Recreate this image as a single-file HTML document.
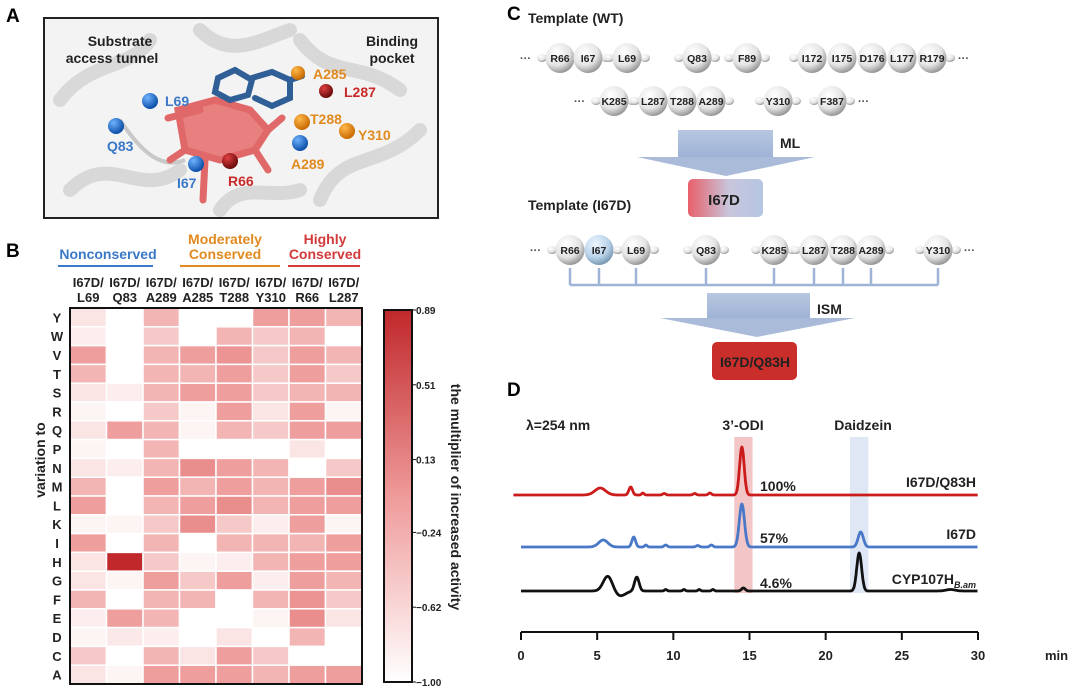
<!DOCTYPE html>
<html><head><meta charset="utf-8">
<style>
html,body{margin:0;padding:0;background:#fff;}
svg{display:block;font-family:"Liberation Sans",Arial,sans-serif;font-weight:bold;}
</style></head>
<body>
<svg id="fig" width="1080" height="690" viewBox="0 0 1080 690">
<defs>
<radialGradient id="bead" cx="0.38" cy="0.3" r="0.75"><stop offset="0" stop-color="#fff"/><stop offset="0.6" stop-color="#e4e4e4"/><stop offset="1" stop-color="#8a8a8a"/></radialGradient>
<radialGradient id="beadB" cx="0.38" cy="0.3" r="0.75"><stop offset="0" stop-color="#eef6ff"/><stop offset="0.6" stop-color="#b9d3ea"/><stop offset="1" stop-color="#6f8fab"/></radialGradient>
<linearGradient id="mlbox" x1="0" x2="1"><stop offset="0" stop-color="#e8606a"/><stop offset="0.55" stop-color="#c8c6dc"/><stop offset="1" stop-color="#b4c6e4"/></linearGradient>
<linearGradient id="arrowG" x1="0" y1="0" x2="0" y2="1"><stop offset="0" stop-color="#b7c7e0"/><stop offset="1" stop-color="#9fb3d6"/></linearGradient>
<linearGradient id="cbar" x1="0" y1="1" x2="0" y2="0"><stop offset="0" stop-color="#ffffff"/><stop offset="0.5" stop-color="#ef9a9a"/><stop offset="1" stop-color="#c0282b"/></linearGradient>
<radialGradient id="ballBlue" cx="0.35" cy="0.3" r="0.7"><stop offset="0" stop-color="#6fb3ff"/><stop offset="1" stop-color="#0b4ea8"/></radialGradient>
<radialGradient id="ballRed" cx="0.35" cy="0.3" r="0.7"><stop offset="0" stop-color="#e04040"/><stop offset="1" stop-color="#6a0a0a"/></radialGradient>
<radialGradient id="ballOr" cx="0.35" cy="0.3" r="0.7"><stop offset="0" stop-color="#ffb84a"/><stop offset="1" stop-color="#c96a00"/></radialGradient>
</defs>

<text x="6" y="22" font-size="19">A</text>
<text x="6" y="257" font-size="19">B</text>
<text x="507" y="20" font-size="19">C</text>
<text x="507" y="396" font-size="19">D</text>

<g>
<rect x="44" y="18" width="394" height="200" fill="#f3f3f3" stroke="#222" stroke-width="2"/>
<g fill="none" stroke="#d6d6d6" stroke-width="14" stroke-linecap="round" opacity="0.9">
<path d="M60 100 C90 60 130 70 150 40"/><path d="M70 190 C110 150 140 200 180 170"/>
<path d="M300 40 C330 80 360 60 400 90"/><path d="M320 200 C340 150 380 170 420 130"/>
<path d="M200 30 C230 60 260 40 290 30"/><path d="M220 210 C240 180 270 200 300 190"/>
</g>
<path d="M120 120 C140 150 160 170 185 160" fill="none" stroke="#c8c8c8" stroke-width="4"/>
<text x="120" y="46" font-size="14" text-anchor="middle" fill="#222">Substrate</text>
<text x="112" y="63" font-size="14" text-anchor="middle" fill="#222">access tunnel</text>
<text x="392" y="46" font-size="14" text-anchor="middle" fill="#222">Binding</text>
<text x="392" y="63" font-size="14" text-anchor="middle" fill="#222">pocket</text>
<g stroke="#e06868" stroke-width="7" fill="none" stroke-linecap="round">
<path d="M178 110 L215 100 L250 110 L268 130 L255 150 L220 160 L185 150 Z" fill="#e88080"/>
<path d="M168 118 L200 110"/><path d="M185 150 L170 160"/><path d="M205 160 L203 200"/><path d="M255 150 L268 170"/><path d="M268 130 L282 118"/>
</g>
<g stroke="#2f5f96" stroke-width="6" fill="none" stroke-linecap="round">
<path d="M218 78 L235 70 L252 80 L248 95 L230 100 L215 92 Z"/><path d="M252 78 L272 72 L290 80 L290 98 L272 106 L255 98"/><path d="M290 80 L302 76"/>
</g>
<circle cx="150" cy="101" r="8" fill="url(#ballBlue)"/><text x="165" y="106" font-size="14" fill="#3a78c8">L69</text>
<circle cx="116" cy="126" r="8" fill="url(#ballBlue)"/><text x="107" y="151" font-size="14" fill="#3a78c8">Q83</text>
<circle cx="196" cy="164" r="8" fill="url(#ballBlue)"/><text x="177" y="188" font-size="14" fill="#3a78c8">I67</text>
<circle cx="230" cy="161" r="8" fill="url(#ballRed)"/><text x="228" y="186" font-size="14" fill="#c92a2a">R66</text>
<circle cx="298" cy="73" r="7" fill="url(#ballOr)"/><text x="313" y="79" font-size="14" fill="#e08a20">A285</text>
<circle cx="326" cy="91" r="7" fill="url(#ballRed)"/><text x="344" y="97" font-size="14" fill="#c92a2a">L287</text>
<circle cx="302" cy="122" r="8" fill="url(#ballOr)"/><text x="310" y="124" font-size="14" fill="#e08a20">T288</text>
<circle cx="347" cy="131" r="8" fill="url(#ballOr)"/><text x="358" y="140" font-size="14" fill="#e08a20">Y310</text>
<circle cx="300" cy="143" r="8" fill="url(#ballBlue)"/><text x="291" y="169" font-size="14" fill="#e08a20">A289</text>
</g>

<g id="heat">
<text x="108" y="259" font-size="14" text-anchor="middle" fill="#3a78c8">Nonconserved</text>
<line x1="58" y1="266" x2="153" y2="266" stroke="#3a78c8" stroke-width="2"/>
<text x="225" y="244" font-size="14" text-anchor="middle" fill="#e08a20">Moderately</text>
<text x="225" y="259" font-size="14" text-anchor="middle" fill="#e08a20">Conserved</text>
<line x1="180" y1="266" x2="280" y2="266" stroke="#e08a20" stroke-width="2"/>
<text x="325" y="244" font-size="14" text-anchor="middle" fill="#d33a3a">Highly</text>
<text x="325" y="259" font-size="14" text-anchor="middle" fill="#d33a3a">Conserved</text>
<line x1="288" y1="266" x2="360" y2="266" stroke="#d33a3a" stroke-width="2"/>
<g id="cells"></g><g id="collabels"></g><g id="rowlabels"></g>
<rect x="70" y="308" width="292" height="376" fill="none" stroke="#111" stroke-width="2"/>
<text transform="translate(45,460) rotate(-90)" font-size="14" text-anchor="middle" fill="#222">variation to</text>
<rect x="384" y="310" width="28" height="372" fill="url(#cbar)" stroke="#111" stroke-width="2"/>
<g id="cbticks"></g>
<text transform="translate(451,497) rotate(90)" font-size="14" text-anchor="middle" fill="#222">the multiplier of increased activity</text>
</g>

<g>
<text x="528" y="23" font-size="14" fill="#222">Template (WT)</text>
<g id="beads"></g>
<rect x="678" y="130" width="95" height="27" fill="url(#arrowG)"/>
<polygon points="637,157 815,157 726,176" fill="#a9bbd9"/>
<text x="780" y="148" font-size="14" fill="#222">ML</text>
<rect x="688" y="179" width="75" height="38" rx="5" fill="url(#mlbox)"/>
<text x="724" y="205" font-size="15" text-anchor="middle" fill="#222">I67D</text>
<text x="528" y="210" font-size="14" fill="#222">Template (I67D)</text>
<g id="bracket" stroke="#9fb3d6" stroke-width="2.5" fill="none"></g>
<rect x="707" y="293" width="103" height="25" fill="url(#arrowG)"/>
<polygon points="660,318 855,318 757,337" fill="#a9bbd9"/>
<text x="817" y="314" font-size="14" fill="#222">ISM</text>
<rect x="712" y="342" width="85" height="38" rx="5" fill="#c92e2a"/>
<text x="755" y="367" font-size="14" text-anchor="middle" fill="#222">I67D/Q83H</text>
</g>

<g id="chrom"></g>
</svg>
<script>
// ---------- Heatmap data ----------
const heatCols = ["L69","Q83","A289","A285","T288","Y310","R66","L287"];
const heatRows = ["Y","W","V","T","S","R","Q","P","N","M","L","K","I","H","G","F","E","D","C","A"];
const cbTicks = [0.89,0.51,0.13,-0.24,-0.62,-1.00];
const rowY = [-0.75,-1,-0.3,-1,-1,-0.1,-0.1,-0.3];
const rowW = [-0.85,-1,-0.5,-1,-0.3,-0.5,-0.3,-1];
const rowV = [-0.1,-1,-0.3,-0.1,0.0,-0.5,-0.1,-0.3];
const rowT = [-0.3,-1,-0.3,-0.3,-0.1,-0.5,-0.1,-0.5];
const rowS = [-0.75,-0.85,-0.3,-0.1,-0.1,-0.5,-0.3,-0.3];
const rowR = [-0.9,-1,-0.5,-0.9,-0.1,-0.75,-0.1,-0.9];
const rowQ = [-0.75,-0.1,-0.3,-0.9,-0.3,-0.5,-0.1,-0.1];
const rowP = [-0.9,-1,-0.3,-1,-1,-1,-0.75,-1];
const rowN = [-0.75,-0.85,-0.3,0.05,-0.1,-0.3,-1,-0.5];
const rowM = [-0.3,-1,-0.1,-0.3,-0.1,-0.3,-0.1,0.05];
const rowL = [-0.1,-1,-0.3,-0.1,0.05,-0.3,-0.1,-0.1];
const rowK = [-0.9,-0.9,-0.5,0.05,-0.5,-0.85,-0.1,-0.9];
const rowI = [-0.1,-1,-0.3,-1,-0.3,-0.3,-0.3,-0.1];
const rowH = [-0.75,0.89,-0.5,-0.9,-0.85,-0.3,-0.1,-0.1];
const rowG = [-0.75,-0.9,-0.1,-0.5,-0.1,-0.85,-0.1,-0.3];
const rowF = [-0.3,-1,-0.3,-0.3,-1,-0.3,0.0,-0.5];
const rowE = [-0.85,-0.1,-0.3,-1,-1,-0.9,0.05,-0.75];
const rowD = [-0.9,-0.8,-0.85,-1,-0.75,-1,-0.3,-1];
const rowC = [-0.5,-1,-0.3,-0.75,-0.1,-0.5,-1,-1];
const rowA = [-0.75,-0.9,-0.1,-0.1,-0.1,-0.3,-0.1,-0.1];
const heatValues = [rowY,rowW,rowV,rowT,rowS,rowR,rowQ,rowP,rowN,rowM,rowL,rowK,rowI,rowH,rowG,rowF,rowE,rowD,rowC,rowA];

// ---------- Chromatogram data ----------
const axisTicks = [0,5,10,15,20,25,30];
// peaks: [time(min), height(signal), width(min)]
const peaksRed = [[5.2,7,0.35],[7.2,8,0.12],[8.0,2,0.08],[9.4,1.5,0.1],[11.4,1.5,0.1],[12.4,2,0.1],[14.5,48,0.15]];
const peaksBlue = [[5.4,7,0.3],[7.4,10,0.12],[8.2,2,0.08],[9.5,2,0.1],[11.6,1.5,0.1],[12.5,2,0.1],[14.5,43,0.17],[22.3,15,0.17]];
const peaksBlack = [[5.7,15,0.3],[6.5,-5,0.35],[7.6,14,0.15],[9.5,1.5,0.08],[10.7,1.5,0.08],[11.7,1.5,0.08],[12.6,1.5,0.08],[14.6,3,0.12],[22.2,38,0.16],[28.2,1.5,0.3]];
const seriesNames = ["I67D/Q83H","I67D","CYP107H"];
const seriesPct = ["100%","57%","4.6%"];

const NS = "http://www.w3.org/2000/svg";
function mk(tag, attrs, parent){const e=document.createElementNS(NS,tag);for(const k in attrs)e.setAttribute(k,attrs[k]);if(parent)parent.appendChild(e);return e;}

const hx0=70, hw=292, hy0=308, hh=376;
const cw = hw/heatCols.length, ch = hh/heatRows.length;
function colX(i){return hx0+i*cw;}
function rowYp(j){return hy0+j*ch;}
function colorOf(v){
  const t=Math.max(0,Math.min(1,(v+1)/1.89));
  let r,g,b;
  if(t<0.5){const u=t/0.5;r=255+(239-255)*u;g=255+(154-255)*u;b=255+(154-255)*u;}
  else{const u=(t-0.5)/0.5;r=239+(192-239)*u;g=154+(40-154)*u;b=154+(43-154)*u;}
  return `rgb(${r|0},${g|0},${b|0})`;
}
const cells=document.getElementById('cells');
heatValues.forEach((row,j)=>row.forEach((v,i)=>{
  const r=mk('rect',{x:colX(i),y:rowYp(j),width:cw,height:ch,fill:colorOf(v),stroke:'#fff','stroke-width':1.5},cells);
  
  
}));
const cl=document.getElementById('collabels');
heatCols.forEach((c,i)=>{
  const t=mk('text',{x:colX(i)+cw/2,y:287,'font-size':13,'text-anchor':'middle',fill:'#222'},cl);
  
  
  mk('tspan',{x:colX(i)+cw/2},t).textContent='I67D/';
  mk('tspan',{x:colX(i)+cw/2,dy:15},t).textContent=c;
});
const rl=document.getElementById('rowlabels');
heatRows.forEach((r,j)=>{
  const t=mk('text',{x:57,y:rowYp(j)+ch/2+5,'font-size':13,'text-anchor':'middle',fill:'#222'},rl);
  t.textContent=r;
  
  
});
const cbt=document.getElementById('cbticks');
function cbY(v){return 682-(v+1)/1.89*372;}
cbTicks.forEach(v=>{
  mk('line',{x1:412,x2:416,y1:cbY(v),y2:cbY(v),stroke:'#111'},cbt);
  const t=mk('text',{x:416,y:cbY(v)+4,'font-size':10,fill:'#222'},cbt);
  t.textContent=(v<0?'\u2212':'')+Math.abs(v).toFixed(2);
  
  
});

const beadsRow1 = [["R66",560],["I67",588],["L69",627],["Q83",697],["F89",747],["I172",812],["I175",842],["D176",872],["L177",902],["R179",932]];
const beadsRow2 = [["K285",614],["L287",653],["T288",682],["A289",711],["Y310",778],["F387",832]];
const beadsRow3 = [["R66",570],["I67",599],["L69",636],["Q83",706],["K285",774],["L287",814],["T288",843],["A289",871],["Y310",938]];
const bg=document.getElementById('beads');
function beadRow(list,y,blue){
  const startX=list[0][1], endX=list[list.length-1][1];
  mk('text',{x:startX-40,y:y+4,'font-size':11,fill:'#444'},bg).textContent='···';
  mk('text',{x:endX+26,y:y+4,'font-size':11,fill:'#444'},bg).textContent='···';
  list.forEach(([n,x],k)=>{
    if(k===0||list[k-1][1]<x-35) mk('ellipse',{cx:x-18,cy:y,rx:5,ry:4,fill:'url(#bead)'},bg);
    if(k===list.length-1||list[k+1][1]>x+35) mk('ellipse',{cx:x+18,cy:y,rx:5,ry:4,fill:'url(#bead)'},bg);
    const c=mk('ellipse',{cx:x,cy:y,rx:14.5,ry:15,fill:(blue&&n==='I67')?'url(#beadB)':'url(#bead)'},bg);
    
    
    mk('text',{x:x,y:y+4,'font-size':10.5,'text-anchor':'middle',fill:'#222'},bg).textContent=n;
  });
}
beadRow(beadsRow1,58,false);
beadRow(beadsRow2,101,false);
beadRow(beadsRow3,250,true);
const br=document.getElementById('bracket');
mk('line',{x1:570,x2:938,y1:285,y2:285},br);
beadsRow3.forEach(([n,x])=>mk('line',{x1:x,x2:x,y1:268,y2:285},br));

const chrom=document.getElementById('chrom');
function xT(t){return 521+t*(978-521)/30;}
const axY=632;
const hb1=mk('rect',{x:xT(14),y:437,width:xT(15.2)-xT(14),height:156,fill:'#efb8b8',opacity:0.8},chrom);

const hb2=mk('rect',{x:xT(21.6),y:437,width:xT(22.8)-xT(21.6),height:156,fill:'#dfe6f4'},chrom);

function trace(peaks,base,color,name,t0){
  let d='';
  for(let t=t0;t<=30;t+=0.03){
    let s=0;peaks.forEach(([c,h,w])=>{s+=h*Math.exp(-0.5*((t-c)/w)**2);});
    d+=(d?'L':'M')+xT(t).toFixed(1)+' '+(base-s).toFixed(1);
  }
  const p=mk('path',{d:d,fill:'none',stroke:color,'stroke-width':2.8,'stroke-linejoin':'round'},chrom);
  
  
}
trace(peaksRed,495,'#cc1b1b','trace-i67d-q83h',-0.5);
trace(peaksBlue,547,'#4a78c8','trace-i67d',0);
trace(peaksBlack,591,'#111','trace-cyp107h',0);
const ax=mk('line',{x1:xT(0),x2:xT(30),y1:axY,y2:axY,stroke:'#111','stroke-width':2},chrom);

axisTicks.forEach(v=>{
  mk('line',{x1:xT(v),x2:xT(v),y1:axY,y2:axY+8,stroke:'#111','stroke-width':2},chrom);
  const t=mk('text',{x:xT(v),y:660,'font-size':13,'text-anchor':'middle',fill:'#222'},chrom);
  t.textContent=v;
  
  
});
mk('text',{x:1045,y:660,'font-size':13,fill:'#222'},chrom).textContent='min';
mk('text',{x:526,y:430,'font-size':14,fill:'#222'},chrom).textContent='\u03bb=254 nm';
mk('text',{x:743,y:430,'font-size':14,'text-anchor':'middle',fill:'#222'},chrom).textContent='3\u2019-ODI';
mk('text',{x:863,y:430,'font-size':14,'text-anchor':'middle',fill:'#222'},chrom).textContent='Daidzein';
const pctY=[491,543,588], lblY=[487,539,584];
seriesPct.forEach((p,i)=>{mk('text',{x:760,y:pctY[i],'font-size':14,fill:'#222'},chrom).textContent=p;});
seriesNames.forEach((n,i)=>{
  const t=mk('text',{x:976,y:lblY[i],'font-size':14,'text-anchor':'end',fill:'#222'},chrom);
  
  
  t.textContent=n;
  if(i===2){const s=mk('tspan',{'font-size':9,'font-style':'italic',dy:4},t);s.textContent='B.am';}
});
</script>
</body></html>
